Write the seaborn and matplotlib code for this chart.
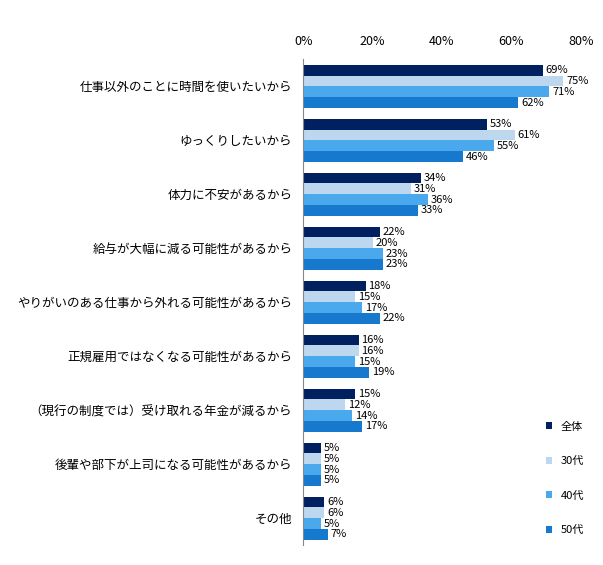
import matplotlib.pyplot as plt
import seaborn as sns
import pandas as pd

plt.rcParams["font.family"] = "Noto Sans CJK JP"

categories = ["仕事以外のことに時間を使いたいから", "ゆっくりしたいから", "体力に不安があるから",
              "給与が大幅に減る可能性があるから", "やりがいのある仕事から外れる可能性があるから",
              "正規雇用ではなくなる可能性があるから", "（現行の制度では）受け取れる年金が減るから",
              "後輩や部下が上司になる可能性があるから", "その他"]
groups = ["全体", "30代", "40代", "50代"]
all_ages = [69, 53, 34, 22, 18, 16, 15, 5, 6]
age30 = [75, 61, 31, 20, 15, 16, 12, 5, 6]
age40 = [71, 55, 36, 23, 17, 15, 14, 5, 5]
age50 = [62, 46, 33, 23, 22, 19, 17, 5, 7]
colors = ["#002060", "#BDD7EE", "#4AA8EC", "#1679CE"]

rows = []
for g, vals in zip(groups, [all_ages, age30, age40, age50]):
    for c, v in zip(categories, vals):
        rows.append({"cat": c, "group": g, "value": v})
df = pd.DataFrame(rows)

fig = plt.figure(figsize=(6.03, 5.65), dpi=100)
ax = fig.add_axes([0.503, 0.035, 0.46, 0.86])
sns.barplot(data=df, y="cat", x="value", hue="group", palette=colors,
            orient="h", width=0.8, ax=ax, saturation=1)

for cont in ax.containers:
    ax.bar_label(cont, labels=[f"{int(v)}%" for v in cont.datavalues],
                 padding=2, fontsize=8)

ax.set_xlim(0, 80)
ax.set_xticks([0, 20, 40, 60, 80])
ax.set_xticklabels([f"{t}%" for t in [0, 20, 40, 60, 80]], fontsize=9)
ax.xaxis.tick_top()
ax.tick_params(axis="x", length=0, pad=8)
ax.tick_params(axis="y", length=0, labelsize=9, pad=8)
ax.set_xlabel("")
ax.set_ylabel("")
for s in ["top", "right", "bottom"]:
    ax.spines[s].set_visible(False)
ax.spines["left"].set_color("#888888")

handles, labels = ax.get_legend_handles_labels()
ax.legend(handles, labels, loc="lower right", bbox_to_anchor=(1.05, 0.0),
          frameon=False, fontsize=8, handlelength=0.6, handleheight=0.6,
          labelspacing=2.2)

fig.savefig("out.png", dpi=100)
